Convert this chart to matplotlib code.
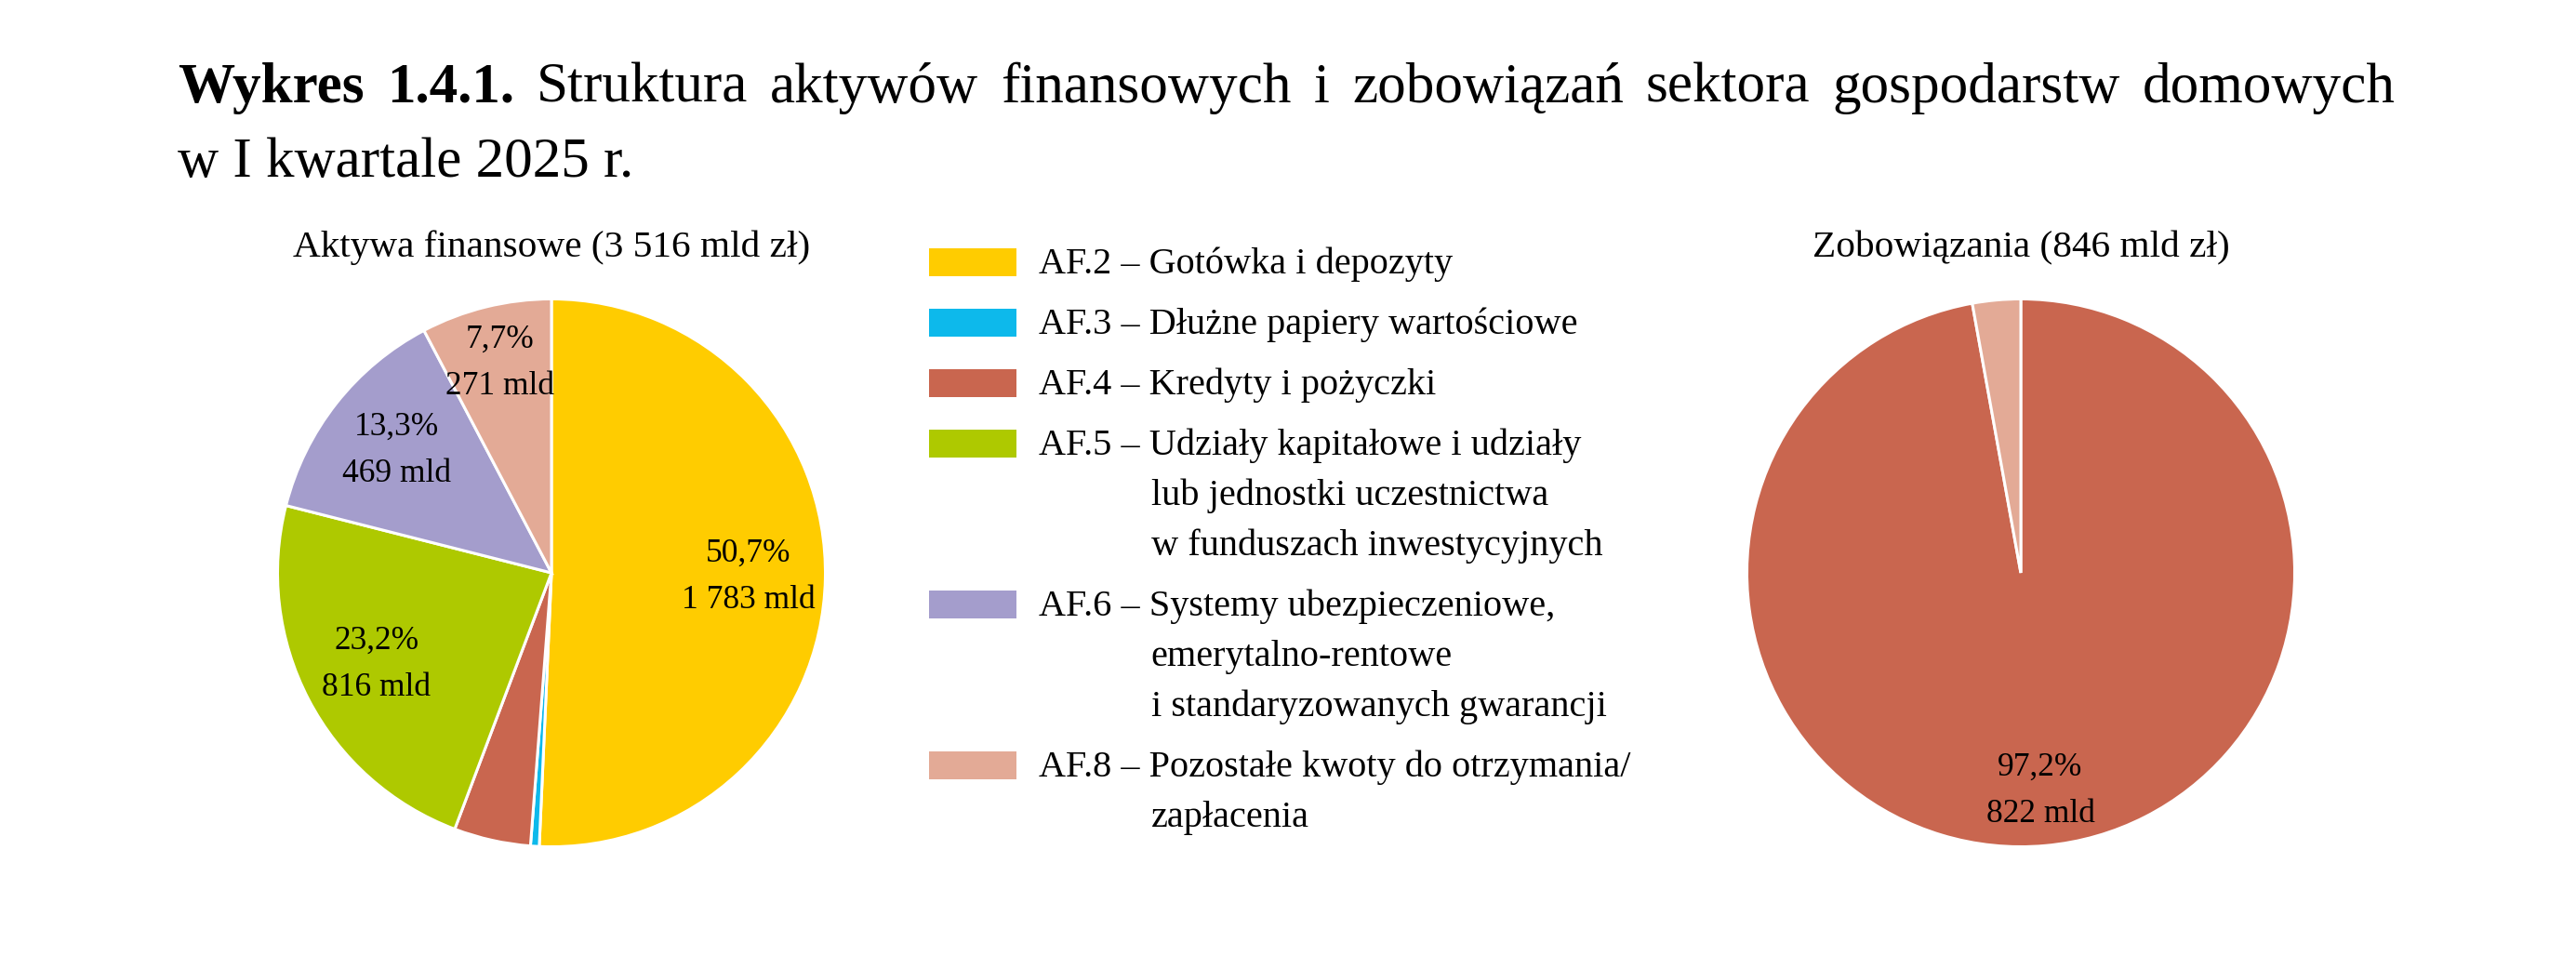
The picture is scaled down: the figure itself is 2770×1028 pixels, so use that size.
import numpy as np
import matplotlib
matplotlib.use("Agg")
import matplotlib.pyplot as plt
from matplotlib.patches import Rectangle

plt.rcParams['font.family'] = ['Liberation Serif', 'DejaVu Serif']

# ---- data ----
title_bold = 'Wykres 1.4.1.'
title_rest = 'Struktura aktywów finansowych i zobowiązań sektora gospodarstw domowych'
title_line2 = 'w I kwartale 2025 r.'

codes = ['AF.2', 'AF.3', 'AF.4', 'AF.5', 'AF.6', 'AF.8']
names = [['Gotówka i depozyty'],
         ['Dłużne papiery wartościowe'],
         ['Kredyty i pożyczki'],
         ['Udziały kapitałowe i udziały', 'lub jednostki uczestnictwa',
          'w funduszach inwestycyjnych'],
         ['Systemy ubezpieczeniowe,', 'emerytalno-rentowe',
          'i standaryzowanych gwarancji'],
         ['Pozostałe kwoty do otrzymania/', 'zapłacenia']]
colors = ['#FFCC00', '#0DB9EB', '#C9664F', '#AEC900', '#A49DCC', '#E3AA96']

assets_title = 'Aktywa finansowe (3 516 mld zł)'
assets = [1783, 18, 159, 816, 469, 271]
assets_pct = ['50,7%', None, None, '23,2%', '13,3%', '7,7%']

liab_title = 'Zobowiązania (846 mld zł)'
liab = [822, 24]
liab_pct = ['97,2%', None]
liab_colors = [colors[2], colors[5]]

W, H = 2770, 1028
fig = plt.figure(figsize=(W / 100, H / 100), dpi=100)
over = fig.add_axes([0, 0, 1, 1])
over.set_xlim(0, W)
over.set_ylim(H, 0)
over.axis('off')
over.set_zorder(5)


def fmt(v):
    return f"{v:,}".replace(',', ' ') + ' mld'


def draw_pie(cx, cy, r, values, cols, pct, dist, title):
    ax = fig.add_axes([(cx - r) / W, 1 - (cy + r) / H, 2 * r / W, 2 * r / H])
    wedges, _ = ax.pie(values, colors=cols, startangle=90, counterclock=False,
                       wedgeprops=dict(edgecolor='white', linewidth=2.2))
    ax.set_xlim(-1.005, 1.005)
    ax.set_ylim(-1.005, 1.005)
    ax.set_aspect('equal')
    for w, v, p, d in zip(wedges, values, pct, dist):
        if p is None:
            continue
        a = np.deg2rad((w.theta1 + w.theta2) / 2)
        ax.text(d * np.cos(a), d * np.sin(a), f"{p}\n{fmt(v)}",
                ha='center', va='center', fontsize=25.5, linespacing=1.7)
    over.text(cx, cy - r - 44, title, ha='center', va='baseline', fontsize=29.7)


draw_pie(593, 616, 296, assets, colors, assets_pct,
         [0.72, 0, 0, 0.72, 0.72, 0.79], assets_title)
draw_pie(2173, 616, 296, liab, liab_colors, liab_pct, [0.8, 0], liab_title)

# ---- title (first line justified) ----
renderer = fig.canvas.get_renderer()
tokens = [(t, 'bold') for t in title_bold.split()] + \
         [(t, 'normal') for t in title_rest.split()]
texts = [over.text(0, 110, t, fontsize=44, fontweight=wt, va='baseline')
         for t, wt in tokens]
widths = [t.get_window_extent(renderer).width for t in texts]
x_left, x_right = 191, 2576
gap = (x_right - x_left - sum(widths)) / (len(texts) - 1)
x = x_left
for t, wd in zip(texts, widths):
    t.set_x(x)
    x += wd + gap
over.text(x_left, 190, title_line2, fontsize=44, va='baseline')

# ---- legend ----
y = 294
for code, lines, c in zip(codes, names, colors):
    over.add_patch(Rectangle((999, y - 27), 94, 30, facecolor=c, edgecolor='none'))
    pre = over.text(1117, y, f"{code} – ", fontsize=29, va='baseline')
    over.text(1117, y, f"{code} – {lines[0]}", fontsize=29, va='baseline')
    pw = pre.get_window_extent(renderer).width
    pre.remove()
    for ln in lines[1:]:
        y += 54
        over.text(1117 + pw + 2, y, ln, fontsize=29, va='baseline')
    y += 65

fig.savefig('out.png', dpi=100, facecolor='white')
